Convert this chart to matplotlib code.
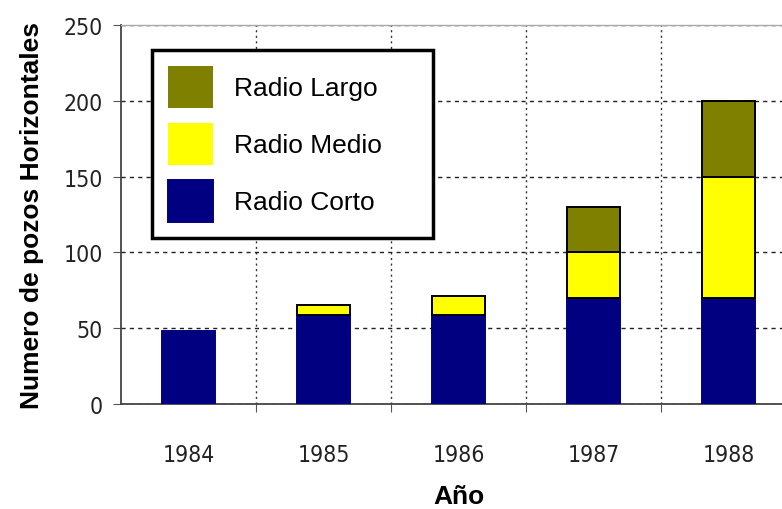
import matplotlib
matplotlib.use("Agg")
import matplotlib.pyplot as plt
import numpy as np

# Horizontal wells drilled per year, split by curvature radius
years = ["1984", "1985", "1986", "1987", "1988"]
radio_corto = [48, 59, 59, 70, 70]
radio_medio = [0, 6, 12, 30, 80]
radio_largo = [0, 0, 0, 30, 50]

series_labels = ["Radio Corto", "Radio Medio", "Radio Largo"]
colors = ["#000080", "#FFFF00", "#808000"]
edge_colors = ["#000080", "#000000", "#000000"]

plt.rcParams["font.family"] = ["Liberation Sans", "DejaVu Sans"]

fig = plt.figure(figsize=(7.82, 5.10), dpi=100)
ax = fig.add_axes([121 / 782, 1 - 405 / 510, 675 / 782, 379 / 510])

x = np.arange(len(years))
width = 0.39
bottom = np.zeros(len(years))
handles = []
for vals, lab, col, ec in zip([radio_corto, radio_medio, radio_largo],
                              series_labels, colors, edge_colors):
    vals = np.array(vals, dtype=float)
    lws = [1.4 if v > 0 else 0 for v in vals]
    bars = ax.bar(x, vals, width, bottom=bottom, color=col, edgecolor=ec,
                  linewidth=lws, label=lab, zorder=3)
    handles.append(bars)
    bottom += vals

ax.set_xlim(-0.5, len(years) - 0.5)
ax.set_ylim(0, 250)
ax.set_yticks(np.arange(0, 251, 50))

# Boundary ticks carry the vertical grid; centre ticks carry the year labels
ax.set_xticks(np.arange(0.5, len(years) - 0.5, 1.0))
ax.set_xticklabels([])
ax.set_xticks(x, minor=True)
ax.set_xticklabels(years, minor=True)
ax.tick_params(axis="x", which="minor", length=0, pad=28)
ax.tick_params(axis="x", which="major", length=6, direction="out", color="#555555")
ax.tick_params(axis="y", length=6, direction="out", color="#555555", pad=7)

for lbl in ax.get_xticklabels(minor=True) + ax.get_yticklabels():
    lbl.set_family(["DejaVu Sans"])
    lbl.set_stretch("condensed")
    lbl.set_fontsize(16.5)
    lbl.set_color("#222222")

ax.set_axisbelow(True)
ax.yaxis.grid(True, linestyle=(0, (3, 3)), color="#222222", linewidth=1.0)
ax.xaxis.grid(True, which="major", linestyle=(0, (1.5, 2.5)), color="#333333", linewidth=1.0)

for side in ["left", "bottom"]:
    ax.spines[side].set_color("#444444")
    ax.spines[side].set_linewidth(1.3)
ax.spines["top"].set_color("#aaaaaa")
ax.spines["top"].set_linewidth(1.0)
ax.spines["right"].set_visible(False)

ax.set_xlabel("Año", fontsize=19, fontweight="bold", labelpad=13)
ax.set_ylabel("Numero de pozos Horizontales", fontsize=19, fontweight="bold", labelpad=14)

leg = ax.legend(handles[::-1], series_labels[::-1], loc="upper left",
                bbox_to_anchor=(31 / 675, 354 / 379, 281 / 675, 0.0),
                mode="expand", borderaxespad=0, fontsize=19,
                handlelength=1.7, handleheight=2.1, handletextpad=0.8,
                labelspacing=0.55, borderpad=0.6, fancybox=False,
                framealpha=1, edgecolor="black")
leg.get_frame().set_linewidth(2.5)
leg.set_zorder(5)

fig.savefig("out.png", dpi=100)
